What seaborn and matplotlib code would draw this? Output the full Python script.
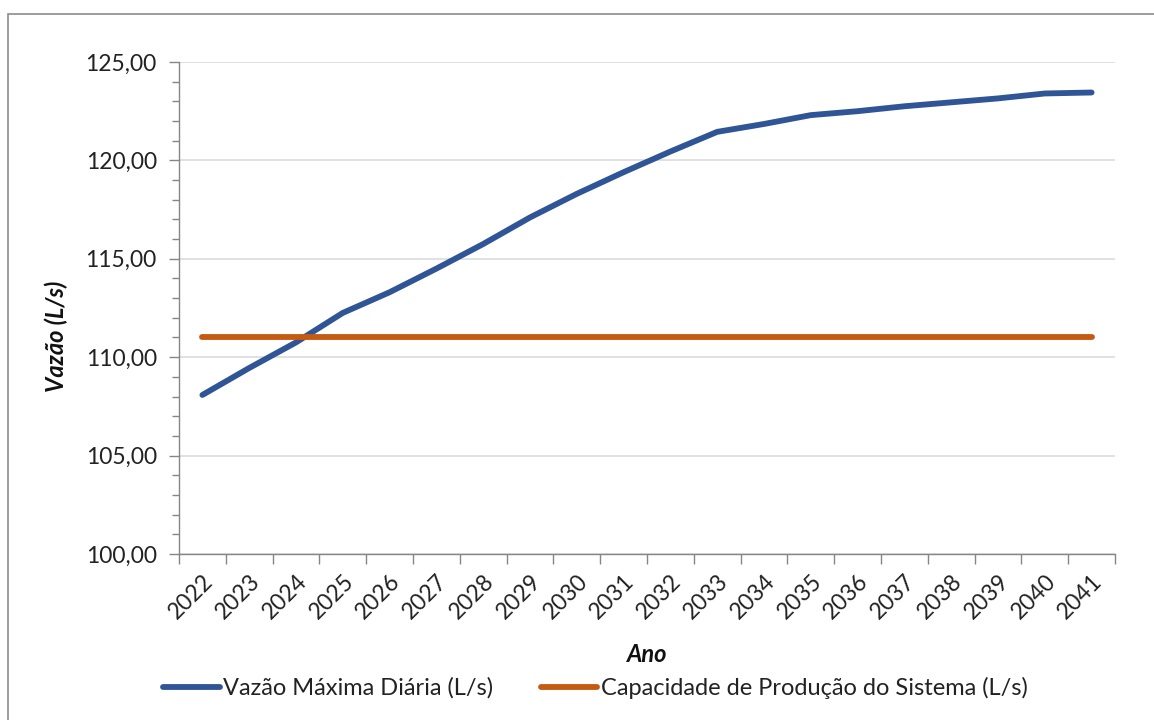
import numpy as np
import pandas as pd
import seaborn as sns
import matplotlib.pyplot as plt
from matplotlib.patches import Rectangle
from matplotlib.ticker import MultipleLocator, FixedLocator, FuncFormatter


anos = [str(a) for a in range(2022, 2042)]
vazao_max = [108.08, 109.45, 110.75, 112.25, 113.30, 114.50, 115.75, 117.10,
             118.30, 119.40, 120.45, 121.45, 121.85, 122.30, 122.50, 122.75,
             122.95, 123.15, 123.40, 123.45]
capacidade = [111.0] * len(anos)

serie_vazao = 'Vazão Máxima Diária (L/s)'
serie_cap = 'Capacidade de Produção do Sistema (L/s)'

AZUL = '#2F5597'
LARANJA = '#C55A11'
FONTE = ['Lato', 'DejaVu Sans']


def main():
    df = pd.DataFrame({
        'Ano': anos * 2,
        'Vazao': vazao_max + capacidade,
        'Serie': [serie_vazao] * len(anos) + [serie_cap] * len(anos),
    })

    sns.set_theme(style='white')
    plt.rcParams['font.family'] = FONTE

    fig = plt.figure(figsize=(11.54, 7.2), dpi=100)
    ax = fig.add_axes([0.1551, 0.2306, 0.8111, 0.6833])

    sns.lineplot(data=df, x='Ano', y='Vazao', hue='Serie',
                 palette=[AZUL, LARANJA], linewidth=4.2, ax=ax,
                 legend=False, solid_capstyle='round')

    # y axis, Excel style
    ax.set_ylim(100, 125)
    ax.yaxis.set_major_locator(MultipleLocator(5))
    ax.yaxis.set_minor_locator(MultipleLocator(1))
    ax.yaxis.set_major_formatter(FuncFormatter(lambda v, p: f'{v:.2f}'.replace('.', ',')))
    ax.grid(axis='y', which='major', color='#D9D9D9', linewidth=1.1)
    ax.set_axisbelow(True)

    # x axis: ticks on category borders, labels at centres
    n = len(anos)
    ax.set_xlim(-0.5, n - 0.5)
    ax.xaxis.set_major_locator(FixedLocator(np.arange(-0.5, n, 1.0)))
    ax.xaxis.set_major_formatter(FuncFormatter(lambda v, p: ''))
    ax.xaxis.set_minor_locator(FixedLocator(np.arange(n)))
    ax.set_xticks(np.arange(n), anos, minor=True)

    ax.tick_params(axis='both', which='both', direction='out', color='#868686', width=1,
                   bottom=True, left=True)
    ax.tick_params(axis='y', which='major', length=7, labelsize=16.5,
                   labelcolor='#222222', pad=9)
    ax.tick_params(axis='y', which='minor', length=5)
    ax.tick_params(axis='x', which='major', length=7)
    ax.tick_params(axis='x', which='minor', length=0, labelsize=16.5, labelcolor='#222222', pad=12)
    for lbl in ax.get_xticklabels(minor=True):
        lbl.set_rotation(45)
        lbl.set_ha('right')
        lbl.set_va('top')
        lbl.set_rotation_mode('anchor')

    for s in ['top', 'right']:
        ax.spines[s].set_visible(False)
    for s in ['left', 'bottom']:
        ax.spines[s].set_color('#868686')
        ax.spines[s].set_linewidth(1)

    ax.set_xlabel('Ano', fontsize=17, fontweight='bold', fontstyle='italic', color='#111111')
    ax.xaxis.set_label_coords(0.5, -0.18)
    ax.set_ylabel('Vazão (L/s)', fontsize=17, fontweight='bold', fontstyle='italic', color='#111111')
    ax.yaxis.set_label_coords(-0.118, 0.443)

    handles = [plt.Line2D([], [], color=AZUL, linewidth=4.2, solid_capstyle='round'),
               plt.Line2D([], [], color=LARANJA, linewidth=4.2, solid_capstyle='round')]
    fig.legend(handles, [serie_vazao, serie_cap], loc='center', ncol=2,
               bbox_to_anchor=(0.516, 1 - 688 / 720), frameon=False, fontsize=17,
               handlelength=2.4, handletextpad=0.15, columnspacing=2.0,
               labelcolor='#222222')

    # outer chart frame (only top and left edges are visible)
    fig.patches.append(Rectangle((8 / 1154, -0.05), 1.2, 1 - 14 / 720 + 0.05,
                                 transform=fig.transFigure, fill=False,
                                 edgecolor='#8C8C8C', linewidth=1.2))

    plt.savefig('out.png', dpi=100)


if __name__ == '__main__':
    main()
